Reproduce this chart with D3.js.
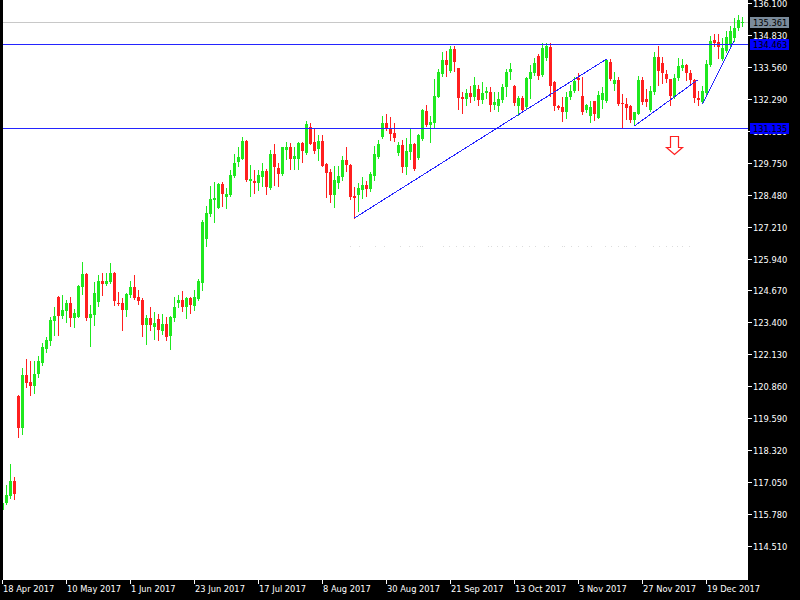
<!DOCTYPE html>
<html><head><meta charset="utf-8">
<script src="https://cdn.jsdelivr.net/npm/d3@7"></script>
<style>html,body{margin:0;padding:0;background:#000}svg{display:block}</style>
</head><body>
<svg id="chart" width="800" height="600"></svg>
<script>
// EURJPY daily, 18 Apr 2017 .. end Dec 2017 (bar index = trading day)
const opens = [115.94,116.22,116.50,117.09,120.48,119.20,121.31,121.03,120.87,121.35,
121.79,122.34,122.66,123.46,124.41,123.66,123.85,124.17,123.58,123.62,
124.81,125.32,123.58,123.69,124.21,125.05,124.93,125.01,125.36,124.17,
124.17,123.89,124.49,124.81,124.41,124.29,123.30,123.58,123.22,123.54,
123.06,123.34,122.86,123.58,124.17,124.29,124.01,124.37,124.05,124.33,
124.97,126.72,127.71,128.27,127.95,128.90,128.39,128.47,129.22,129.78,
129.90,130.61,129.02,129.02,128.94,129.18,129.42,128.74,130.10,129.54,
129.30,130.26,130.37,129.90,129.90,130.53,130.14,131.17,130.57,130.29,
130.61,129.70,129.38,128.47,128.94,129.18,129.86,129.66,128.43,128.47,
128.67,128.86,128.70,129.22,129.98,130.77,131.33,131.13,130.93,130.14,
130.45,129.58,130.18,130.49,129.94,130.69,131.81,131.25,131.33,132.36,
133.28,133.83,133.40,134.27,133.51,132.36,132.28,132.52,132.36,132.68,
132.24,132.52,132.56,132.04,132.00,132.24,132.76,133.36,132.80,132.00,
132.32,131.97,133.08,133.32,134.00,133.24,133.91,134.35,132.96,132.00,
131.97,131.77,132.36,132.60,133.12,132.40,131.85,131.61,132.20,131.53,
132.24,132.20,133.75,132.88,133.04,132.12,132.08,132.00,131.45,131.69,
133.04,132.28,131.85,132.56,133.95,133.71,133.28,133.08,132.36,133.12,
133.51,133.63,133.32,133.04,132.32,132.16,132.52,133.63,134.63,134.55,
133.87,134.19,134.43,134.71,135.11,135.33];
const highs = [116.26,116.94,117.77,117.25,120.52,121.59,121.95,121.87,121.87,122.06,
122.58,122.82,123.62,124.01,124.45,124.49,124.29,124.41,123.93,124.89,
125.80,125.36,124.09,125.01,125.28,125.36,125.36,125.76,125.40,124.61,
124.37,124.57,125.05,125.28,124.69,124.37,123.69,124.01,123.81,123.73,
123.73,123.62,123.66,124.41,124.49,124.65,124.41,124.41,124.69,125.13,
127.47,128.03,128.82,128.98,128.94,128.98,128.75,129.46,130.10,130.37,
130.77,130.65,129.66,129.46,129.46,129.74,129.50,130.26,130.49,129.74,
130.37,130.57,130.53,130.37,130.57,130.57,131.41,131.33,131.09,130.85,
130.85,129.74,129.50,129.62,129.62,130.02,130.37,129.70,128.78,128.94,
129.18,129.02,129.38,130.41,130.65,131.61,131.69,131.57,131.33,130.57,
130.65,130.73,131.13,130.53,130.89,131.89,132.04,131.61,133.08,133.48,
134.15,134.19,134.39,134.39,133.51,132.56,132.68,132.80,133.16,132.84,
132.96,132.76,132.76,132.56,132.56,132.88,133.48,133.71,132.84,132.40,
132.40,133.16,133.63,133.91,134.07,134.51,134.51,134.51,133.00,132.04,
132.36,132.56,132.84,133.16,133.32,133.16,132.08,132.20,132.20,132.60,
132.76,133.87,133.87,133.36,133.16,132.48,132.32,132.04,131.77,133.20,
133.16,132.68,132.80,134.15,134.39,133.95,133.44,133.08,133.28,133.91,
133.87,133.67,133.44,133.08,132.60,132.80,133.83,134.79,134.87,134.87,
134.71,134.99,135.18,135.50,135.62,135.54];
const lows = [115.82,116.18,116.42,116.38,118.85,118.96,120.83,120.51,120.59,121.23,
121.71,122.22,122.50,122.90,122.90,123.58,123.42,123.26,123.22,123.62,
124.53,123.50,122.46,123.30,124.05,124.49,124.89,124.97,124.09,124.09,
123.10,123.66,124.41,124.33,124.13,122.86,122.54,123.10,122.74,122.70,
122.94,122.70,122.34,123.46,124.01,123.85,123.58,123.77,123.89,124.29,
124.69,126.44,127.63,127.39,127.95,128.03,127.95,128.43,129.18,129.62,
129.90,129.02,128.43,128.55,128.67,128.82,128.51,128.70,128.86,128.82,
129.26,129.90,129.50,129.50,129.50,129.78,130.10,130.49,130.14,129.86,
129.62,128.39,128.19,127.99,128.74,129.06,129.42,128.31,127.55,127.83,
128.35,128.43,128.63,129.06,129.94,130.73,131.05,130.65,130.61,130.06,
129.38,129.30,129.90,129.46,129.90,130.65,131.21,130.57,131.13,132.36,
133.20,133.20,133.36,133.40,131.89,131.73,132.04,132.16,132.24,132.04,
132.12,132.32,131.81,131.89,131.81,132.16,132.40,133.08,132.04,131.65,
131.81,131.93,132.32,133.24,133.08,133.20,133.83,132.40,131.85,131.89,
131.41,131.53,132.28,132.56,132.64,131.69,131.77,131.37,131.45,131.53,
131.93,132.16,133.04,132.64,132.04,131.13,131.49,131.37,131.29,131.69,
132.08,132.00,131.81,132.48,132.84,132.92,132.96,132.04,132.32,133.04,
133.44,133.04,132.92,132.16,132.04,132.12,132.48,133.59,134.39,133.91,
133.83,134.15,134.35,134.59,135.03,135.18];
const closes = [116.22,116.54,117.09,116.58,119.20,121.31,120.99,120.87,121.35,121.87,
122.42,122.70,123.50,123.66,123.66,123.89,124.17,123.58,123.77,124.85,
125.32,123.58,123.73,124.57,125.05,124.93,125.05,125.36,124.25,124.13,
123.89,124.53,124.81,124.37,124.25,123.30,123.58,123.30,123.38,123.10,
123.34,122.82,123.62,124.01,124.29,124.01,124.37,124.09,124.41,125.05,
127.39,127.75,128.31,128.35,128.90,128.51,128.51,129.26,129.74,129.98,
130.61,129.06,129.10,128.94,129.26,129.42,128.78,130.10,129.58,129.30,
130.37,130.37,129.90,130.02,130.53,130.22,131.29,130.49,130.22,130.61,
129.62,129.34,128.47,129.06,129.22,129.86,129.66,128.39,128.35,128.74,
128.86,128.70,129.30,130.10,130.49,131.33,131.09,130.89,130.73,130.45,
129.58,130.22,130.49,129.50,130.85,131.85,131.25,131.37,132.40,133.36,
133.83,133.63,134.27,133.75,132.32,132.28,132.52,132.36,132.84,132.24,
132.52,132.60,132.04,132.16,132.28,132.76,133.36,133.48,132.12,132.32,
131.85,133.12,133.36,133.71,133.20,134.31,134.39,132.80,132.00,131.93,
131.77,132.36,132.60,133.00,133.04,131.77,132.04,131.97,131.69,132.44,
132.52,133.83,133.08,133.04,132.08,132.08,131.93,131.45,131.77,133.04,
132.16,132.16,132.60,133.95,133.40,133.32,133.08,132.40,133.12,133.59,
133.63,133.32,133.04,132.32,132.24,132.60,133.67,134.59,134.51,134.35,
134.31,134.75,134.99,135.11,135.42,135.361];

const dateTickBars = [0,16,32,48,64,80,96,112,128,144,160,176];
const dateTickLabels = ["18 Apr 2017","10 May 2017","1 Jun 2017","23 Jun 2017","17 Jul 2017","8 Aug 2017",
  "30 Aug 2017","21 Sep 2017","13 Oct 2017","3 Nov 2017","27 Nov 2017","19 Dec 2017"];
const priceTicks = [136.100,134.830,133.560,132.290,131.020,129.750,128.480,127.210,125.940,
  124.670,123.400,122.130,120.860,119.590,118.320,117.050,115.780,114.510];
const levelLines = [134.463, 131.135];
const bidPrice = 135.361;
// trend lines: [startBar, startPrice, endBar, endPrice]
const trendLines = [[88,127.55,151,133.87],[158,131.21,173.75,133.04],[175,132.08,182.9,134.59]];
const arrowBar = 168.1, arrowPrice = 130.81;
const markBars = [87,89.25,93.25,95.5,99.5,101.75,103.75,104.5,105,110.25,111.75,113.5,115.25,116.75,118,
  121.5,122.25,123.75,125,126.75,128.5,130,131.75,133.25,135.5,136.5,140,140.5,142.25,144,146.25,147.25,
  150.75,152.25,154,155.5,156,158.25,162.75,164.25,166,167.5,168.75,170,171.75];
const markPrice = 126.44;

const W = 800, H = 600, plotL = 3, plotR = 748, plotB = 580;
const svg = d3.select("#chart");
const x = d3.scaleLinear().domain([0, 186.5]).range([2, 748]);
const y = d3.scaleLinear().domain([113.158, 136.219]).range([580, 0]);
const UP = "#1fe81f", DN = "#ff1f1f";
const font = "'DejaVu Sans', sans-serif";

svg.append("rect").attr("width", W).attr("height", H).attr("fill", "#000");
svg.append("defs").append("clipPath").attr("id", "plot")
  .append("rect").attr("x", plotL).attr("y", 0).attr("width", plotR - plotL).attr("height", plotB);
svg.append("rect").attr("x", plotL).attr("y", 0).attr("width", plotR - plotL).attr("height", plotB).attr("fill", "#fff");

const g = svg.append("g").attr("clip-path", "url(#plot)").attr("shape-rendering", "crispEdges");

// faint marks
g.selectAll("rect.mark").data(markBars).join("rect").attr("class", "mark")
  .attr("x", d => Math.round(x(d))).attr("y", Math.round(y(markPrice)))
  .attr("width", 1).attr("height", 1).attr("fill", "#dcdcdc");

// bid line
g.append("line").attr("x1", plotL).attr("x2", plotR)
  .attr("y1", Math.round(y(bidPrice)) + 0.5).attr("y2", Math.round(y(bidPrice)) + 0.5)
  .attr("stroke", "#c8c8c8");

// candles
const idx = d3.range(opens.length);
g.selectAll("rect.wick").data(idx).join("rect").attr("class", "wick")
  .attr("x", i => Math.round(x(i)))
  .attr("y", i => Math.round(y(highs[i])))
  .attr("width", 1)
  .attr("height", i => Math.max(1, Math.round(y(lows[i])) - Math.round(y(highs[i])) + 1))
  .attr("fill", i => closes[i] >= opens[i] ? UP : DN);
g.selectAll("rect.body").data(idx).join("rect").attr("class", "body")
  .attr("x", i => Math.round(x(i)) - 1)
  .attr("y", i => Math.round(y(Math.max(opens[i], closes[i]))))
  .attr("width", 3)
  .attr("height", i => Math.max(1, Math.round(y(Math.min(opens[i], closes[i]))) - Math.round(y(Math.max(opens[i], closes[i])))))
  .attr("fill", i => closes[i] >= opens[i] ? UP : DN);

// horizontal level lines
g.selectAll("line.level").data(levelLines).join("line").attr("class", "level")
  .attr("x1", plotL).attr("x2", plotR)
  .attr("y1", d => Math.round(y(d)) + 0.5).attr("y2", d => Math.round(y(d)) + 0.5)
  .attr("stroke", "#2424ff").attr("stroke-width", 1);

// trend lines
g.selectAll("line.trend").data(trendLines).join("line").attr("class", "trend")
  .attr("x1", d => x(d[0]) + 0.5).attr("y1", d => y(d[1]))
  .attr("x2", d => x(d[2]) + 0.5).attr("y2", d => y(d[3]))
  .attr("stroke", "#2424ff").attr("stroke-width", 1);

// sell arrow
{
  const ax = Math.round(x(arrowBar)) + 0.5, ay = Math.round(y(arrowPrice)) + 0.5;
  const pts = [[ax-4,ay],[ax+4,ay],[ax+4,ay+11],[ax+8,ay+11],[ax,ay+18],[ax-8,ay+11],[ax-4,ay+11]];
  svg.append("path").attr("d", d3.line()(pts) + "Z")
    .attr("fill", "#fff").attr("stroke", "#ff2020").attr("stroke-width", 1.2);
}

// left strip / axes backgrounds
svg.append("rect").attr("x", 0).attr("y", 0).attr("width", plotL).attr("height", H).attr("fill", "#000");
svg.append("rect").attr("x", plotR).attr("y", 0).attr("width", W - plotR).attr("height", H).attr("fill", "#000");
svg.append("rect").attr("x", 0).attr("y", plotB).attr("width", W).attr("height", H - plotB).attr("fill", "#000");

// price axis
const ax = svg.append("g").attr("shape-rendering", "crispEdges");
ax.selectAll("line.pt").data(priceTicks).join("line")
  .attr("x1", plotR).attr("x2", plotR + 4)
  .attr("y1", d => Math.round(y(d)) + 0.5).attr("y2", d => Math.round(y(d)) + 0.5)
  .attr("stroke", "#fff");
svg.selectAll("text.pl").data(priceTicks).join("text").attr("class", "pl")
  .attr("x", plotR + 5).attr("y", d => Math.round(y(d)) + 3.5)
  .attr("fill", "#fff").attr("font-family", font).attr("font-size", 8.3)
  .text(d => d.toFixed(3));

// price boxes
const boxes = [{p: bidPrice, fill: "#7b8b9b"}, ...levelLines.map(p => ({p, fill: "#0000ff"}))];
const bg = svg.selectAll("g.box").data(boxes).join("g").attr("class", "box");
bg.append("rect").attr("x", plotR + 2).attr("y", d => Math.round(y(d.p)) - 5)
  .attr("width", 39).attr("height", 11).attr("fill", d => d.fill).attr("shape-rendering", "crispEdges");
bg.append("text").attr("x", plotR + 5).attr("y", d => Math.round(y(d.p)) + 3.5)
  .attr("fill", "#000").attr("font-family", font).attr("font-size", 8.3)
  .text(d => d.p.toFixed(3));

// date axis
ax.selectAll("line.dt").data(dateTickBars).join("line")
  .attr("x1", d => Math.round(x(d)) + 0.5).attr("x2", d => Math.round(x(d)) + 0.5)
  .attr("y1", plotB).attr("y2", plotB + 4).attr("stroke", "#fff");
svg.selectAll("text.dl").data(dateTickBars).join("text").attr("class", "dl")
  .attr("x", d => Math.round(x(d)) + 1).attr("y", plotB + 11.5)
  .attr("fill", "#fff").attr("font-family", font).attr("font-size", 8.3)
  .text((d, k) => dateTickLabels[k]);
</script>
</body></html>
